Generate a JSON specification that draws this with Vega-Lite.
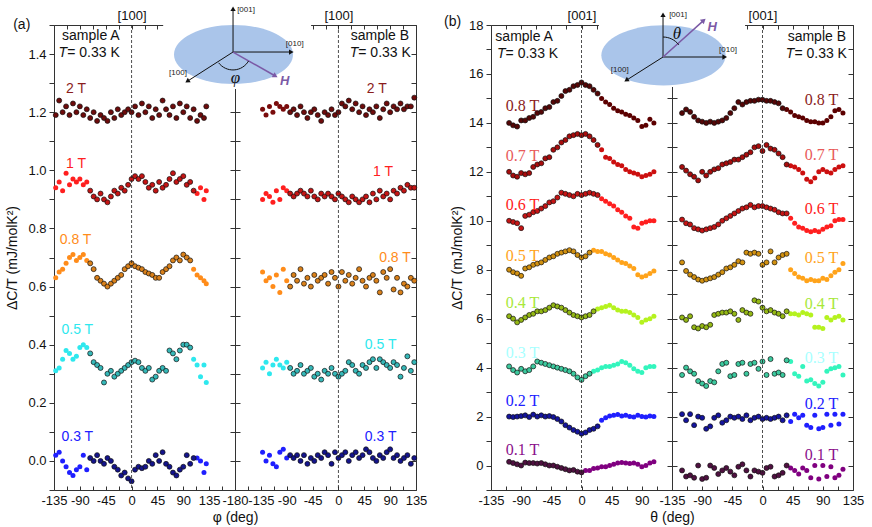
{
  "$schema": "https://vega.github.io/schema/vega-lite/v6.json",
  "config": {
    "font": "Liberation Sans",
    "view": {"stroke": "#333", "strokeWidth": 1},
    "axis": {"labelFontSize": 13, "labelColor": "#111", "tickColor": "#333", "titleFontSize": 14, "titleFontWeight": "normal", "titleColor": "#111", "grid": false, "domain": false, "labelFlush": false, "labelOverlap": false}
  },
  "datasets": {
    "aL": [
      {"s":"2","g":"o","x":-132,"y":1.19},{"s":"2","g":"o","x":-126,"y":1.24},{"s":"2","g":"o","x":-120,"y":1.20},{"s":"2","g":"o","x":-114,"y":1.22},{"s":"2","g":"o","x":-108,"y":1.19},{"s":"2","g":"o","x":-102,"y":1.23},{"s":"2","g":"o","x":-96,"y":1.20},{"s":"2","g":"o","x":-90,"y":1.22},{"s":"2","g":"o","x":-84,"y":1.19},{"s":"2","g":"o","x":-78,"y":1.21},{"s":"2","g":"o","x":-72,"y":1.18},{"s":"2","g":"o","x":-66,"y":1.20},{"s":"2","g":"o","x":-60,"y":1.17},{"s":"2","g":"o","x":-54,"y":1.19},{"s":"2","g":"o","x":-48,"y":1.18},{"s":"2","g":"o","x":-42,"y":1.17},{"s":"2","g":"o","x":-36,"y":1.20},{"s":"2","g":"o","x":-30,"y":1.18},{"s":"2","g":"o","x":-24,"y":1.21},{"s":"2","g":"o","x":-18,"y":1.19},{"s":"2","g":"o","x":-12,"y":1.20},{"s":"2","g":"o","x":-6,"y":1.21},{"s":"2","g":"o","x":0,"y":1.20},{"s":"2","g":"o","x":6,"y":1.22},{"s":"2","g":"o","x":12,"y":1.19},{"s":"2","g":"o","x":18,"y":1.23},{"s":"2","g":"o","x":24,"y":1.20},{"s":"2","g":"o","x":30,"y":1.22},{"s":"2","g":"o","x":36,"y":1.18},{"s":"2","g":"o","x":42,"y":1.21},{"s":"2","g":"o","x":48,"y":1.19},{"s":"2","g":"o","x":54,"y":1.24},{"s":"2","g":"o","x":60,"y":1.21},{"s":"2","g":"o","x":66,"y":1.19},{"s":"2","g":"o","x":72,"y":1.22},{"s":"2","g":"o","x":78,"y":1.18},{"s":"2","g":"o","x":84,"y":1.23},{"s":"2","g":"o","x":90,"y":1.20},{"s":"2","g":"o","x":96,"y":1.22},{"s":"2","g":"o","x":102,"y":1.18},{"s":"2","g":"o","x":108,"y":1.21},{"s":"2","g":"o","x":114,"y":1.17},{"s":"2","g":"o","x":120,"y":1.19},{"s":"2","g":"o","x":126,"y":1.18},{"s":"2","g":"o","x":130,"y":1.22},
      {"s":"1","g":"f","x":-132,"y":0.94},{"s":"1","g":"f","x":-126,"y":0.96},{"s":"1","g":"f","x":-120,"y":0.93},{"s":"1","g":"f","x":-114,"y":0.99},{"s":"1","g":"f","x":-108,"y":0.95},{"s":"1","g":"f","x":-102,"y":0.97},{"s":"1","g":"f","x":-96,"y":0.96},{"s":"1","g":"f","x":-90,"y":0.97},{"s":"1","g":"f","x":-84,"y":0.95},{"s":"1","g":"f","x":-78,"y":0.96},{"s":"1","g":"o","x":-72,"y":0.93},{"s":"1","g":"o","x":-66,"y":0.91},{"s":"1","g":"o","x":-60,"y":0.90},{"s":"1","g":"o","x":-54,"y":0.92},{"s":"1","g":"o","x":-48,"y":0.90},{"s":"1","g":"o","x":-42,"y":0.89},{"s":"1","g":"o","x":-36,"y":0.91},{"s":"1","g":"o","x":-30,"y":0.93},{"s":"1","g":"o","x":-24,"y":0.92},{"s":"1","g":"o","x":-18,"y":0.94},{"s":"1","g":"o","x":-12,"y":0.93},{"s":"1","g":"o","x":-6,"y":0.95},{"s":"1","g":"o","x":0,"y":0.97},{"s":"1","g":"o","x":6,"y":0.98},{"s":"1","g":"o","x":12,"y":0.97},{"s":"1","g":"o","x":18,"y":0.98},{"s":"1","g":"o","x":24,"y":0.96},{"s":"1","g":"o","x":30,"y":0.94},{"s":"1","g":"o","x":36,"y":0.95},{"s":"1","g":"o","x":42,"y":0.93},{"s":"1","g":"o","x":48,"y":0.96},{"s":"1","g":"o","x":54,"y":0.94},{"s":"1","g":"o","x":60,"y":0.95},{"s":"1","g":"o","x":66,"y":0.97},{"s":"1","g":"o","x":72,"y":0.99},{"s":"1","g":"o","x":78,"y":0.96},{"s":"1","g":"o","x":84,"y":0.97},{"s":"1","g":"o","x":90,"y":0.98},{"s":"1","g":"o","x":96,"y":0.95},{"s":"1","g":"o","x":102,"y":0.96},{"s":"1","g":"o","x":108,"y":0.93},{"s":"1","g":"f","x":114,"y":0.92},{"s":"1","g":"f","x":120,"y":0.94},{"s":"1","g":"f","x":126,"y":0.90},{"s":"1","g":"f","x":130,"y":0.93},
      {"s":"0.8","g":"f","x":-132,"y":0.63},{"s":"0.8","g":"f","x":-126,"y":0.65},{"s":"0.8","g":"f","x":-120,"y":0.66},{"s":"0.8","g":"f","x":-114,"y":0.68},{"s":"0.8","g":"f","x":-108,"y":0.70},{"s":"0.8","g":"f","x":-102,"y":0.71},{"s":"0.8","g":"f","x":-96,"y":0.69},{"s":"0.8","g":"f","x":-90,"y":0.70},{"s":"0.8","g":"f","x":-84,"y":0.71},{"s":"0.8","g":"f","x":-78,"y":0.69},{"s":"0.8","g":"o","x":-72,"y":0.68},{"s":"0.8","g":"o","x":-66,"y":0.66},{"s":"0.8","g":"o","x":-60,"y":0.63},{"s":"0.8","g":"o","x":-54,"y":0.62},{"s":"0.8","g":"o","x":-48,"y":0.61},{"s":"0.8","g":"o","x":-42,"y":0.60},{"s":"0.8","g":"o","x":-36,"y":0.61},{"s":"0.8","g":"o","x":-30,"y":0.62},{"s":"0.8","g":"o","x":-24,"y":0.63},{"s":"0.8","g":"o","x":-18,"y":0.64},{"s":"0.8","g":"o","x":-12,"y":0.66},{"s":"0.8","g":"o","x":-6,"y":0.67},{"s":"0.8","g":"o","x":0,"y":0.68},{"s":"0.8","g":"o","x":6,"y":0.67},{"s":"0.8","g":"o","x":12,"y":0.665},{"s":"0.8","g":"o","x":18,"y":0.66},{"s":"0.8","g":"o","x":24,"y":0.65},{"s":"0.8","g":"o","x":30,"y":0.645},{"s":"0.8","g":"o","x":36,"y":0.64},{"s":"0.8","g":"o","x":42,"y":0.63},{"s":"0.8","g":"o","x":48,"y":0.63},{"s":"0.8","g":"o","x":54,"y":0.65},{"s":"0.8","g":"o","x":60,"y":0.66},{"s":"0.8","g":"o","x":66,"y":0.67},{"s":"0.8","g":"o","x":72,"y":0.69},{"s":"0.8","g":"o","x":78,"y":0.70},{"s":"0.8","g":"o","x":84,"y":0.69},{"s":"0.8","g":"o","x":90,"y":0.71},{"s":"0.8","g":"o","x":96,"y":0.70},{"s":"0.8","g":"o","x":102,"y":0.69},{"s":"0.8","g":"f","x":108,"y":0.66},{"s":"0.8","g":"f","x":114,"y":0.64},{"s":"0.8","g":"f","x":120,"y":0.63},{"s":"0.8","g":"f","x":126,"y":0.62},{"s":"0.8","g":"f","x":130,"y":0.61},
      {"s":"0.5","g":"f","x":-132,"y":0.31},{"s":"0.5","g":"f","x":-126,"y":0.32},{"s":"0.5","g":"f","x":-120,"y":0.35},{"s":"0.5","g":"f","x":-114,"y":0.38},{"s":"0.5","g":"f","x":-108,"y":0.37},{"s":"0.5","g":"f","x":-102,"y":0.35},{"s":"0.5","g":"f","x":-96,"y":0.36},{"s":"0.5","g":"f","x":-90,"y":0.39},{"s":"0.5","g":"f","x":-84,"y":0.40},{"s":"0.5","g":"f","x":-78,"y":0.39},{"s":"0.5","g":"o","x":-72,"y":0.37},{"s":"0.5","g":"o","x":-66,"y":0.34},{"s":"0.5","g":"o","x":-60,"y":0.33},{"s":"0.5","g":"o","x":-54,"y":0.32},{"s":"0.5","g":"o","x":-48,"y":0.27},{"s":"0.5","g":"o","x":-42,"y":0.30},{"s":"0.5","g":"o","x":-36,"y":0.31},{"s":"0.5","g":"o","x":-30,"y":0.29},{"s":"0.5","g":"o","x":-24,"y":0.30},{"s":"0.5","g":"o","x":-18,"y":0.31},{"s":"0.5","g":"o","x":-12,"y":0.32},{"s":"0.5","g":"o","x":-6,"y":0.33},{"s":"0.5","g":"o","x":0,"y":0.34},{"s":"0.5","g":"o","x":6,"y":0.345},{"s":"0.5","g":"o","x":12,"y":0.34},{"s":"0.5","g":"o","x":18,"y":0.32},{"s":"0.5","g":"o","x":24,"y":0.31},{"s":"0.5","g":"o","x":30,"y":0.32},{"s":"0.5","g":"o","x":36,"y":0.28},{"s":"0.5","g":"o","x":42,"y":0.29},{"s":"0.5","g":"o","x":48,"y":0.31},{"s":"0.5","g":"o","x":54,"y":0.32},{"s":"0.5","g":"o","x":60,"y":0.31},{"s":"0.5","g":"o","x":66,"y":0.38},{"s":"0.5","g":"o","x":72,"y":0.37},{"s":"0.5","g":"o","x":78,"y":0.35},{"s":"0.5","g":"o","x":84,"y":0.38},{"s":"0.5","g":"o","x":90,"y":0.40},{"s":"0.5","g":"o","x":96,"y":0.40},{"s":"0.5","g":"o","x":102,"y":0.39},{"s":"0.5","g":"f","x":108,"y":0.35},{"s":"0.5","g":"f","x":114,"y":0.33},{"s":"0.5","g":"f","x":120,"y":0.29},{"s":"0.5","g":"f","x":126,"y":0.33},{"s":"0.5","g":"f","x":130,"y":0.27},
      {"s":"0.3","g":"f","x":-132,"y":0.02},{"s":"0.3","g":"f","x":-126,"y":0.03},{"s":"0.3","g":"f","x":-120,"y":0.00},{"s":"0.3","g":"f","x":-114,"y":-0.02},{"s":"0.3","g":"f","x":-108,"y":-0.04},{"s":"0.3","g":"f","x":-102,"y":-0.05},{"s":"0.3","g":"f","x":-96,"y":-0.03},{"s":"0.3","g":"f","x":-90,"y":-0.02},{"s":"0.3","g":"f","x":-84,"y":0.02},{"s":"0.3","g":"f","x":-78,"y":-0.03},{"s":"0.3","g":"o","x":-72,"y":0.01},{"s":"0.3","g":"o","x":-66,"y":0.00},{"s":"0.3","g":"o","x":-60,"y":0.02},{"s":"0.3","g":"o","x":-54,"y":0.00},{"s":"0.3","g":"o","x":-48,"y":-0.01},{"s":"0.3","g":"o","x":-42,"y":0.01},{"s":"0.3","g":"o","x":-36,"y":0.00},{"s":"0.3","g":"o","x":-30,"y":-0.02},{"s":"0.3","g":"o","x":-24,"y":-0.03},{"s":"0.3","g":"o","x":-18,"y":-0.05},{"s":"0.3","g":"o","x":-12,"y":-0.04},{"s":"0.3","g":"o","x":-6,"y":-0.06},{"s":"0.3","g":"o","x":0,"y":-0.07},{"s":"0.3","g":"o","x":6,"y":-0.03},{"s":"0.3","g":"o","x":12,"y":-0.02},{"s":"0.3","g":"o","x":18,"y":-0.025},{"s":"0.3","g":"o","x":24,"y":-0.02},{"s":"0.3","g":"o","x":30,"y":0.00},{"s":"0.3","g":"o","x":36,"y":-0.01},{"s":"0.3","g":"o","x":42,"y":0.02},{"s":"0.3","g":"o","x":48,"y":0.00},{"s":"0.3","g":"o","x":54,"y":0.03},{"s":"0.3","g":"o","x":60,"y":-0.01},{"s":"0.3","g":"o","x":66,"y":-0.02},{"s":"0.3","g":"o","x":72,"y":-0.04},{"s":"0.3","g":"o","x":78,"y":-0.05},{"s":"0.3","g":"o","x":84,"y":-0.03},{"s":"0.3","g":"o","x":90,"y":-0.02},{"s":"0.3","g":"o","x":96,"y":0.02},{"s":"0.3","g":"o","x":102,"y":-0.01},{"s":"0.3","g":"o","x":108,"y":0.01},{"s":"0.3","g":"f","x":114,"y":0.01},{"s":"0.3","g":"f","x":120,"y":0.00},{"s":"0.3","g":"f","x":126,"y":-0.04},{"s":"0.3","g":"f","x":130,"y":-0.01}
    ],
    "aR": [
      {"s":"2","g":"f","x":-132,"y":1.21},{"s":"2","g":"f","x":-126,"y":1.19},{"s":"2","g":"f","x":-120,"y":1.22},{"s":"2","g":"f","x":-114,"y":1.20},{"s":"2","g":"f","x":-108,"y":1.23},{"s":"2","g":"f","x":-102,"y":1.22},{"s":"2","g":"f","x":-96,"y":1.21},{"s":"2","g":"f","x":-90,"y":1.22},{"s":"2","g":"o","x":-84,"y":1.20},{"s":"2","g":"o","x":-78,"y":1.21},{"s":"2","g":"o","x":-72,"y":1.19},{"s":"2","g":"o","x":-66,"y":1.22},{"s":"2","g":"o","x":-60,"y":1.20},{"s":"2","g":"o","x":-54,"y":1.18},{"s":"2","g":"o","x":-48,"y":1.20},{"s":"2","g":"o","x":-42,"y":1.21},{"s":"2","g":"o","x":-36,"y":1.19},{"s":"2","g":"o","x":-30,"y":1.17},{"s":"2","g":"o","x":-24,"y":1.20},{"s":"2","g":"o","x":-18,"y":1.19},{"s":"2","g":"o","x":-12,"y":1.21},{"s":"2","g":"o","x":-6,"y":1.19},{"s":"2","g":"o","x":0,"y":1.20},{"s":"2","g":"o","x":6,"y":1.23},{"s":"2","g":"o","x":12,"y":1.22},{"s":"2","g":"o","x":18,"y":1.24},{"s":"2","g":"o","x":24,"y":1.21},{"s":"2","g":"o","x":30,"y":1.23},{"s":"2","g":"o","x":36,"y":1.20},{"s":"2","g":"o","x":42,"y":1.22},{"s":"2","g":"o","x":48,"y":1.19},{"s":"2","g":"o","x":54,"y":1.21},{"s":"2","g":"o","x":60,"y":1.20},{"s":"2","g":"o","x":66,"y":1.22},{"s":"2","g":"o","x":72,"y":1.18},{"s":"2","g":"o","x":78,"y":1.21},{"s":"2","g":"o","x":84,"y":1.23},{"s":"2","g":"o","x":90,"y":1.20},{"s":"2","g":"o","x":96,"y":1.22},{"s":"2","g":"o","x":102,"y":1.21},{"s":"2","g":"o","x":108,"y":1.23},{"s":"2","g":"o","x":114,"y":1.21},{"s":"2","g":"o","x":120,"y":1.22},{"s":"2","g":"o","x":126,"y":1.22},{"s":"2","g":"o","x":132,"y":1.25},
      {"s":"1","g":"f","x":-132,"y":0.90},{"s":"1","g":"f","x":-126,"y":0.92},{"s":"1","g":"f","x":-120,"y":0.91},{"s":"1","g":"f","x":-114,"y":0.89},{"s":"1","g":"f","x":-108,"y":0.93},{"s":"1","g":"f","x":-102,"y":0.90},{"s":"1","g":"f","x":-96,"y":0.94},{"s":"1","g":"f","x":-90,"y":0.93},{"s":"1","g":"o","x":-84,"y":0.92},{"s":"1","g":"o","x":-78,"y":0.91},{"s":"1","g":"o","x":-72,"y":0.92},{"s":"1","g":"o","x":-66,"y":0.93},{"s":"1","g":"o","x":-60,"y":0.92},{"s":"1","g":"o","x":-54,"y":0.91},{"s":"1","g":"o","x":-48,"y":0.93},{"s":"1","g":"o","x":-42,"y":0.91},{"s":"1","g":"o","x":-36,"y":0.90},{"s":"1","g":"o","x":-30,"y":0.92},{"s":"1","g":"o","x":-24,"y":0.91},{"s":"1","g":"o","x":-18,"y":0.92},{"s":"1","g":"o","x":-12,"y":0.91},{"s":"1","g":"o","x":-6,"y":0.90},{"s":"1","g":"o","x":0,"y":0.92},{"s":"1","g":"o","x":6,"y":0.91},{"s":"1","g":"o","x":12,"y":0.90},{"s":"1","g":"o","x":18,"y":0.89},{"s":"1","g":"o","x":24,"y":0.91},{"s":"1","g":"o","x":30,"y":0.90},{"s":"1","g":"o","x":36,"y":0.89},{"s":"1","g":"o","x":42,"y":0.90},{"s":"1","g":"o","x":48,"y":0.91},{"s":"1","g":"o","x":54,"y":0.89},{"s":"1","g":"o","x":60,"y":0.92},{"s":"1","g":"o","x":66,"y":0.90},{"s":"1","g":"o","x":72,"y":0.93},{"s":"1","g":"o","x":78,"y":0.91},{"s":"1","g":"o","x":84,"y":0.92},{"s":"1","g":"o","x":90,"y":0.90},{"s":"1","g":"o","x":96,"y":0.93},{"s":"1","g":"o","x":102,"y":0.92},{"s":"1","g":"o","x":108,"y":0.94},{"s":"1","g":"o","x":114,"y":0.93},{"s":"1","g":"o","x":120,"y":0.95},{"s":"1","g":"o","x":126,"y":0.94},{"s":"1","g":"o","x":132,"y":0.94},
      {"s":"0.8","g":"f","x":-132,"y":0.65},{"s":"0.8","g":"f","x":-126,"y":0.62},{"s":"0.8","g":"f","x":-120,"y":0.63},{"s":"0.8","g":"f","x":-114,"y":0.60},{"s":"0.8","g":"f","x":-108,"y":0.64},{"s":"0.8","g":"f","x":-102,"y":0.58},{"s":"0.8","g":"f","x":-96,"y":0.66},{"s":"0.8","g":"f","x":-90,"y":0.62},{"s":"0.8","g":"o","x":-84,"y":0.60},{"s":"0.8","g":"o","x":-78,"y":0.64},{"s":"0.8","g":"o","x":-72,"y":0.62},{"s":"0.8","g":"o","x":-66,"y":0.66},{"s":"0.8","g":"o","x":-60,"y":0.61},{"s":"0.8","g":"o","x":-54,"y":0.63},{"s":"0.8","g":"o","x":-48,"y":0.60},{"s":"0.8","g":"o","x":-42,"y":0.64},{"s":"0.8","g":"o","x":-36,"y":0.62},{"s":"0.8","g":"o","x":-30,"y":0.63},{"s":"0.8","g":"o","x":-24,"y":0.64},{"s":"0.8","g":"o","x":-18,"y":0.61},{"s":"0.8","g":"o","x":-12,"y":0.65},{"s":"0.8","g":"o","x":-6,"y":0.63},{"s":"0.8","g":"o","x":0,"y":0.60},{"s":"0.8","g":"o","x":6,"y":0.65},{"s":"0.8","g":"o","x":12,"y":0.62},{"s":"0.8","g":"o","x":18,"y":0.64},{"s":"0.8","g":"o","x":24,"y":0.61},{"s":"0.8","g":"o","x":30,"y":0.63},{"s":"0.8","g":"o","x":36,"y":0.66},{"s":"0.8","g":"o","x":42,"y":0.62},{"s":"0.8","g":"o","x":48,"y":0.60},{"s":"0.8","g":"o","x":54,"y":0.63},{"s":"0.8","g":"o","x":60,"y":0.64},{"s":"0.8","g":"o","x":66,"y":0.62},{"s":"0.8","g":"o","x":72,"y":0.58},{"s":"0.8","g":"o","x":78,"y":0.65},{"s":"0.8","g":"o","x":84,"y":0.63},{"s":"0.8","g":"o","x":90,"y":0.66},{"s":"0.8","g":"o","x":96,"y":0.59},{"s":"0.8","g":"o","x":102,"y":0.63},{"s":"0.8","g":"o","x":108,"y":0.58},{"s":"0.8","g":"o","x":114,"y":0.61},{"s":"0.8","g":"o","x":120,"y":0.60},{"s":"0.8","g":"o","x":126,"y":0.63},{"s":"0.8","g":"o","x":132,"y":0.62},
      {"s":"0.5","g":"f","x":-132,"y":0.32},{"s":"0.5","g":"f","x":-126,"y":0.34},{"s":"0.5","g":"f","x":-120,"y":0.30},{"s":"0.5","g":"f","x":-114,"y":0.33},{"s":"0.5","g":"f","x":-108,"y":0.35},{"s":"0.5","g":"f","x":-102,"y":0.33},{"s":"0.5","g":"f","x":-96,"y":0.32},{"s":"0.5","g":"f","x":-90,"y":0.34},{"s":"0.5","g":"o","x":-84,"y":0.32},{"s":"0.5","g":"o","x":-78,"y":0.30},{"s":"0.5","g":"o","x":-72,"y":0.31},{"s":"0.5","g":"o","x":-66,"y":0.33},{"s":"0.5","g":"o","x":-60,"y":0.30},{"s":"0.5","g":"o","x":-54,"y":0.31},{"s":"0.5","g":"o","x":-48,"y":0.32},{"s":"0.5","g":"o","x":-42,"y":0.29},{"s":"0.5","g":"o","x":-36,"y":0.30},{"s":"0.5","g":"o","x":-30,"y":0.28},{"s":"0.5","g":"o","x":-24,"y":0.31},{"s":"0.5","g":"o","x":-18,"y":0.30},{"s":"0.5","g":"o","x":-12,"y":0.32},{"s":"0.5","g":"o","x":-6,"y":0.30},{"s":"0.5","g":"o","x":0,"y":0.29},{"s":"0.5","g":"o","x":6,"y":0.30},{"s":"0.5","g":"o","x":12,"y":0.31},{"s":"0.5","g":"o","x":18,"y":0.34},{"s":"0.5","g":"o","x":24,"y":0.33},{"s":"0.5","g":"o","x":30,"y":0.31},{"s":"0.5","g":"o","x":36,"y":0.30},{"s":"0.5","g":"o","x":42,"y":0.33},{"s":"0.5","g":"o","x":48,"y":0.32},{"s":"0.5","g":"o","x":54,"y":0.34},{"s":"0.5","g":"o","x":60,"y":0.35},{"s":"0.5","g":"o","x":66,"y":0.32},{"s":"0.5","g":"o","x":72,"y":0.35},{"s":"0.5","g":"o","x":78,"y":0.34},{"s":"0.5","g":"o","x":84,"y":0.33},{"s":"0.5","g":"o","x":90,"y":0.32},{"s":"0.5","g":"o","x":96,"y":0.34},{"s":"0.5","g":"o","x":102,"y":0.33},{"s":"0.5","g":"o","x":108,"y":0.29},{"s":"0.5","g":"o","x":114,"y":0.32},{"s":"0.5","g":"o","x":120,"y":0.36},{"s":"0.5","g":"o","x":126,"y":0.31},{"s":"0.5","g":"o","x":132,"y":0.34},
      {"s":"0.3","g":"f","x":-132,"y":0.03},{"s":"0.3","g":"f","x":-126,"y":0.00},{"s":"0.3","g":"f","x":-120,"y":0.02},{"s":"0.3","g":"f","x":-114,"y":-0.01},{"s":"0.3","g":"f","x":-108,"y":-0.02},{"s":"0.3","g":"f","x":-102,"y":0.03},{"s":"0.3","g":"f","x":-96,"y":0.04},{"s":"0.3","g":"f","x":-90,"y":0.01},{"s":"0.3","g":"o","x":-84,"y":0.02},{"s":"0.3","g":"o","x":-78,"y":0.01},{"s":"0.3","g":"o","x":-72,"y":0.02},{"s":"0.3","g":"o","x":-66,"y":0.00},{"s":"0.3","g":"o","x":-60,"y":0.02},{"s":"0.3","g":"o","x":-54,"y":-0.01},{"s":"0.3","g":"o","x":-48,"y":0.01},{"s":"0.3","g":"o","x":-42,"y":0.00},{"s":"0.3","g":"o","x":-36,"y":0.02},{"s":"0.3","g":"o","x":-30,"y":0.01},{"s":"0.3","g":"o","x":-24,"y":0.03},{"s":"0.3","g":"o","x":-18,"y":0.02},{"s":"0.3","g":"o","x":-12,"y":-0.01},{"s":"0.3","g":"o","x":-6,"y":0.03},{"s":"0.3","g":"o","x":0,"y":0.01},{"s":"0.3","g":"o","x":6,"y":0.02},{"s":"0.3","g":"o","x":12,"y":0.03},{"s":"0.3","g":"o","x":18,"y":0.00},{"s":"0.3","g":"o","x":24,"y":0.02},{"s":"0.3","g":"o","x":30,"y":0.03},{"s":"0.3","g":"o","x":36,"y":0.01},{"s":"0.3","g":"o","x":42,"y":0.02},{"s":"0.3","g":"o","x":48,"y":0.04},{"s":"0.3","g":"o","x":54,"y":0.03},{"s":"0.3","g":"o","x":60,"y":0.01},{"s":"0.3","g":"o","x":66,"y":0.00},{"s":"0.3","g":"o","x":72,"y":0.02},{"s":"0.3","g":"o","x":78,"y":0.01},{"s":"0.3","g":"o","x":84,"y":0.03},{"s":"0.3","g":"o","x":90,"y":0.04},{"s":"0.3","g":"o","x":96,"y":0.01},{"s":"0.3","g":"o","x":102,"y":0.02},{"s":"0.3","g":"o","x":108,"y":0.00},{"s":"0.3","g":"o","x":114,"y":0.01},{"s":"0.3","g":"o","x":120,"y":0.02},{"s":"0.3","g":"o","x":126,"y":-0.01},{"s":"0.3","g":"o","x":132,"y":0.01}
    ],
    "bL": [
      {"s":"0.8","g":"o","x":-108,"y":14.0},{"s":"0.8","g":"o","x":-102,"y":13.9},{"s":"0.8","g":"o","x":-96,"y":13.85},{"s":"0.8","g":"o","x":-90,"y":14.1},{"s":"0.8","g":"o","x":-84,"y":14.1},{"s":"0.8","g":"o","x":-78,"y":14.2},{"s":"0.8","g":"o","x":-72,"y":14.25},{"s":"0.8","g":"o","x":-66,"y":14.4},{"s":"0.8","g":"o","x":-60,"y":14.45},{"s":"0.8","g":"o","x":-54,"y":14.6},{"s":"0.8","g":"o","x":-48,"y":14.65},{"s":"0.8","g":"o","x":-42,"y":14.85},{"s":"0.8","g":"o","x":-36,"y":14.9},{"s":"0.8","g":"o","x":-30,"y":15.1},{"s":"0.8","g":"o","x":-24,"y":15.3},{"s":"0.8","g":"o","x":-18,"y":15.35},{"s":"0.8","g":"o","x":-12,"y":15.5},{"s":"0.8","g":"o","x":-6,"y":15.55},{"s":"0.8","g":"o","x":0,"y":15.65},{"s":"0.8","g":"o","x":6,"y":15.55},{"s":"0.8","g":"o","x":12,"y":15.5},{"s":"0.8","g":"o","x":18,"y":15.35},{"s":"0.8","g":"o","x":24,"y":15.2},{"s":"0.8","g":"f","x":30,"y":15.0},{"s":"0.8","g":"f","x":36,"y":14.85},{"s":"0.8","g":"f","x":42,"y":14.75},{"s":"0.8","g":"f","x":48,"y":14.6},{"s":"0.8","g":"f","x":54,"y":14.5},{"s":"0.8","g":"f","x":60,"y":14.45},{"s":"0.8","g":"f","x":66,"y":14.35},{"s":"0.8","g":"f","x":72,"y":14.3},{"s":"0.8","g":"f","x":78,"y":14.2},{"s":"0.8","g":"f","x":84,"y":14.1},{"s":"0.8","g":"f","x":90,"y":13.85},{"s":"0.8","g":"f","x":96,"y":13.9},{"s":"0.8","g":"f","x":102,"y":14.15},{"s":"0.8","g":"f","x":108,"y":14.0},
      {"s":"0.7","g":"o","x":-108,"y":12.0},{"s":"0.7","g":"o","x":-102,"y":11.85},{"s":"0.7","g":"o","x":-96,"y":11.8},{"s":"0.7","g":"o","x":-90,"y":11.95},{"s":"0.7","g":"o","x":-84,"y":11.9},{"s":"0.7","g":"o","x":-78,"y":11.95},{"s":"0.7","g":"o","x":-72,"y":12.2},{"s":"0.7","g":"o","x":-66,"y":12.3},{"s":"0.7","g":"o","x":-60,"y":12.35},{"s":"0.7","g":"o","x":-54,"y":12.55},{"s":"0.7","g":"o","x":-48,"y":12.6},{"s":"0.7","g":"o","x":-42,"y":12.9},{"s":"0.7","g":"o","x":-36,"y":13.0},{"s":"0.7","g":"o","x":-30,"y":13.2},{"s":"0.7","g":"o","x":-24,"y":13.3},{"s":"0.7","g":"o","x":-18,"y":13.45},{"s":"0.7","g":"o","x":-12,"y":13.5},{"s":"0.7","g":"o","x":-6,"y":13.55},{"s":"0.7","g":"o","x":0,"y":13.5},{"s":"0.7","g":"o","x":6,"y":13.55},{"s":"0.7","g":"o","x":12,"y":13.45},{"s":"0.7","g":"o","x":18,"y":13.3},{"s":"0.7","g":"o","x":24,"y":13.1},{"s":"0.7","g":"f","x":30,"y":12.9},{"s":"0.7","g":"f","x":36,"y":12.6},{"s":"0.7","g":"f","x":42,"y":12.55},{"s":"0.7","g":"f","x":48,"y":12.4},{"s":"0.7","g":"f","x":54,"y":12.3},{"s":"0.7","g":"f","x":60,"y":12.25},{"s":"0.7","g":"f","x":66,"y":12.1},{"s":"0.7","g":"f","x":72,"y":12.0},{"s":"0.7","g":"f","x":78,"y":11.95},{"s":"0.7","g":"f","x":84,"y":11.9},{"s":"0.7","g":"f","x":90,"y":11.8},{"s":"0.7","g":"f","x":96,"y":11.85},{"s":"0.7","g":"f","x":102,"y":11.9},{"s":"0.7","g":"f","x":108,"y":12.0},
      {"s":"0.6","g":"o","x":-108,"y":10.0},{"s":"0.6","g":"o","x":-102,"y":9.95},{"s":"0.6","g":"o","x":-96,"y":9.9},{"s":"0.6","g":"o","x":-90,"y":9.7},{"s":"0.6","g":"o","x":-84,"y":10.2},{"s":"0.6","g":"o","x":-78,"y":10.25},{"s":"0.6","g":"o","x":-72,"y":10.35},{"s":"0.6","g":"o","x":-66,"y":10.4},{"s":"0.6","g":"o","x":-60,"y":10.5},{"s":"0.6","g":"o","x":-54,"y":10.6},{"s":"0.6","g":"o","x":-48,"y":10.75},{"s":"0.6","g":"o","x":-42,"y":10.8},{"s":"0.6","g":"o","x":-36,"y":10.95},{"s":"0.6","g":"o","x":-30,"y":11.15},{"s":"0.6","g":"o","x":-24,"y":11.1},{"s":"0.6","g":"o","x":-18,"y":11.05},{"s":"0.6","g":"o","x":-12,"y":11.0},{"s":"0.6","g":"o","x":-6,"y":11.1},{"s":"0.6","g":"o","x":0,"y":11.05},{"s":"0.6","g":"o","x":6,"y":11.1},{"s":"0.6","g":"o","x":12,"y":11.15},{"s":"0.6","g":"o","x":18,"y":11.1},{"s":"0.6","g":"o","x":24,"y":11.05},{"s":"0.6","g":"f","x":30,"y":10.9},{"s":"0.6","g":"f","x":36,"y":10.8},{"s":"0.6","g":"f","x":42,"y":10.7},{"s":"0.6","g":"f","x":48,"y":10.6},{"s":"0.6","g":"f","x":54,"y":10.45},{"s":"0.6","g":"f","x":60,"y":10.35},{"s":"0.6","g":"f","x":66,"y":10.2},{"s":"0.6","g":"f","x":72,"y":10.1},{"s":"0.6","g":"f","x":78,"y":9.75},{"s":"0.6","g":"f","x":84,"y":9.7},{"s":"0.6","g":"f","x":90,"y":9.9},{"s":"0.6","g":"f","x":96,"y":9.95},{"s":"0.6","g":"f","x":102,"y":10.0},{"s":"0.6","g":"f","x":108,"y":10.0},
      {"s":"0.5","g":"o","x":-108,"y":8.0},{"s":"0.5","g":"o","x":-102,"y":7.9},{"s":"0.5","g":"o","x":-96,"y":7.85},{"s":"0.5","g":"o","x":-90,"y":7.75},{"s":"0.5","g":"o","x":-84,"y":8.05},{"s":"0.5","g":"o","x":-78,"y":8.1},{"s":"0.5","g":"o","x":-72,"y":8.2},{"s":"0.5","g":"o","x":-66,"y":8.25},{"s":"0.5","g":"o","x":-60,"y":8.3},{"s":"0.5","g":"o","x":-54,"y":8.4},{"s":"0.5","g":"o","x":-48,"y":8.5},{"s":"0.5","g":"o","x":-42,"y":8.55},{"s":"0.5","g":"o","x":-36,"y":8.65},{"s":"0.5","g":"o","x":-30,"y":8.7},{"s":"0.5","g":"o","x":-24,"y":8.75},{"s":"0.5","g":"o","x":-18,"y":8.8},{"s":"0.5","g":"o","x":-12,"y":8.75},{"s":"0.5","g":"o","x":-6,"y":8.6},{"s":"0.5","g":"o","x":0,"y":8.5},{"s":"0.5","g":"o","x":6,"y":8.55},{"s":"0.5","g":"o","x":12,"y":8.7},{"s":"0.5","g":"f","x":18,"y":8.8},{"s":"0.5","g":"f","x":24,"y":8.75},{"s":"0.5","g":"f","x":30,"y":8.75},{"s":"0.5","g":"f","x":36,"y":8.65},{"s":"0.5","g":"f","x":42,"y":8.6},{"s":"0.5","g":"f","x":48,"y":8.5},{"s":"0.5","g":"f","x":54,"y":8.4},{"s":"0.5","g":"f","x":60,"y":8.3},{"s":"0.5","g":"f","x":66,"y":8.25},{"s":"0.5","g":"f","x":72,"y":8.15},{"s":"0.5","g":"f","x":78,"y":8.05},{"s":"0.5","g":"f","x":84,"y":7.8},{"s":"0.5","g":"f","x":90,"y":7.7},{"s":"0.5","g":"f","x":96,"y":7.75},{"s":"0.5","g":"f","x":102,"y":7.85},{"s":"0.5","g":"f","x":108,"y":7.95},
      {"s":"0.4","g":"o","x":-108,"y":6.1},{"s":"0.4","g":"o","x":-102,"y":6.0},{"s":"0.4","g":"o","x":-96,"y":5.85},{"s":"0.4","g":"o","x":-90,"y":5.95},{"s":"0.4","g":"o","x":-84,"y":6.05},{"s":"0.4","g":"o","x":-78,"y":6.15},{"s":"0.4","g":"o","x":-72,"y":6.2},{"s":"0.4","g":"o","x":-66,"y":6.3},{"s":"0.4","g":"o","x":-60,"y":6.3},{"s":"0.4","g":"o","x":-54,"y":6.35},{"s":"0.4","g":"o","x":-48,"y":6.45},{"s":"0.4","g":"o","x":-42,"y":6.55},{"s":"0.4","g":"o","x":-36,"y":6.5},{"s":"0.4","g":"o","x":-30,"y":6.45},{"s":"0.4","g":"o","x":-24,"y":6.35},{"s":"0.4","g":"o","x":-18,"y":6.25},{"s":"0.4","g":"o","x":-12,"y":6.15},{"s":"0.4","g":"o","x":-6,"y":6.1},{"s":"0.4","g":"o","x":0,"y":6.05},{"s":"0.4","g":"o","x":6,"y":6.1},{"s":"0.4","g":"o","x":12,"y":6.15},{"s":"0.4","g":"o","x":18,"y":6.3},{"s":"0.4","g":"f","x":24,"y":6.4},{"s":"0.4","g":"f","x":30,"y":6.45},{"s":"0.4","g":"f","x":36,"y":6.5},{"s":"0.4","g":"f","x":42,"y":6.55},{"s":"0.4","g":"f","x":48,"y":6.45},{"s":"0.4","g":"f","x":54,"y":6.35},{"s":"0.4","g":"f","x":60,"y":6.3},{"s":"0.4","g":"f","x":66,"y":6.3},{"s":"0.4","g":"f","x":72,"y":6.25},{"s":"0.4","g":"f","x":78,"y":6.15},{"s":"0.4","g":"f","x":84,"y":6.05},{"s":"0.4","g":"f","x":90,"y":5.85},{"s":"0.4","g":"f","x":96,"y":5.95},{"s":"0.4","g":"f","x":102,"y":6.0},{"s":"0.4","g":"f","x":108,"y":6.1},
      {"s":"0.3","g":"o","x":-108,"y":4.05},{"s":"0.3","g":"o","x":-102,"y":3.9},{"s":"0.3","g":"o","x":-96,"y":3.8},{"s":"0.3","g":"o","x":-90,"y":3.95},{"s":"0.3","g":"o","x":-84,"y":3.85},{"s":"0.3","g":"o","x":-78,"y":3.9},{"s":"0.3","g":"o","x":-72,"y":4.05},{"s":"0.3","g":"o","x":-66,"y":4.25},{"s":"0.3","g":"o","x":-60,"y":4.2},{"s":"0.3","g":"o","x":-54,"y":4.15},{"s":"0.3","g":"o","x":-48,"y":4.1},{"s":"0.3","g":"o","x":-42,"y":4.05},{"s":"0.3","g":"o","x":-36,"y":4.0},{"s":"0.3","g":"o","x":-30,"y":3.95},{"s":"0.3","g":"o","x":-24,"y":3.9},{"s":"0.3","g":"o","x":-18,"y":3.85},{"s":"0.3","g":"o","x":-12,"y":3.75},{"s":"0.3","g":"o","x":-6,"y":3.6},{"s":"0.3","g":"o","x":0,"y":3.5},{"s":"0.3","g":"o","x":6,"y":3.65},{"s":"0.3","g":"o","x":12,"y":3.75},{"s":"0.3","g":"f","x":18,"y":3.85},{"s":"0.3","g":"f","x":24,"y":3.9},{"s":"0.3","g":"f","x":30,"y":4.0},{"s":"0.3","g":"f","x":36,"y":4.05},{"s":"0.3","g":"f","x":42,"y":4.05},{"s":"0.3","g":"f","x":48,"y":4.1},{"s":"0.3","g":"f","x":54,"y":4.15},{"s":"0.3","g":"f","x":60,"y":4.25},{"s":"0.3","g":"f","x":66,"y":4.2},{"s":"0.3","g":"f","x":72,"y":4.1},{"s":"0.3","g":"f","x":78,"y":3.95},{"s":"0.3","g":"f","x":84,"y":3.85},{"s":"0.3","g":"f","x":90,"y":3.8},{"s":"0.3","g":"f","x":96,"y":4.0},{"s":"0.3","g":"f","x":102,"y":4.05},{"s":"0.3","g":"f","x":108,"y":4.05},
      {"s":"0.2","g":"o","x":-108,"y":2.0},{"s":"0.2","g":"o","x":-102,"y":1.98},{"s":"0.2","g":"o","x":-96,"y":2.0},{"s":"0.2","g":"o","x":-90,"y":2.02},{"s":"0.2","g":"o","x":-84,"y":2.05},{"s":"0.2","g":"o","x":-78,"y":1.98},{"s":"0.2","g":"o","x":-72,"y":2.08},{"s":"0.2","g":"o","x":-66,"y":2.0},{"s":"0.2","g":"o","x":-60,"y":2.05},{"s":"0.2","g":"o","x":-54,"y":2.0},{"s":"0.2","g":"o","x":-48,"y":2.02},{"s":"0.2","g":"o","x":-42,"y":1.98},{"s":"0.2","g":"o","x":-36,"y":1.9},{"s":"0.2","g":"o","x":-30,"y":1.8},{"s":"0.2","g":"o","x":-24,"y":1.65},{"s":"0.2","g":"o","x":-18,"y":1.55},{"s":"0.2","g":"o","x":-12,"y":1.45},{"s":"0.2","g":"o","x":-6,"y":1.38},{"s":"0.2","g":"o","x":0,"y":1.3},{"s":"0.2","g":"o","x":6,"y":1.35},{"s":"0.2","g":"o","x":12,"y":1.45},{"s":"0.2","g":"o","x":18,"y":1.5},{"s":"0.2","g":"o","x":24,"y":1.6},{"s":"0.2","g":"f","x":30,"y":1.85},{"s":"0.2","g":"f","x":36,"y":1.95},{"s":"0.2","g":"f","x":42,"y":2.02},{"s":"0.2","g":"f","x":48,"y":2.05},{"s":"0.2","g":"f","x":54,"y":2.08},{"s":"0.2","g":"f","x":60,"y":2.02},{"s":"0.2","g":"f","x":66,"y":2.05},{"s":"0.2","g":"f","x":72,"y":2.0},{"s":"0.2","g":"f","x":78,"y":1.98},{"s":"0.2","g":"f","x":84,"y":2.05},{"s":"0.2","g":"f","x":90,"y":2.0},{"s":"0.2","g":"f","x":96,"y":1.98},{"s":"0.2","g":"f","x":102,"y":2.02},{"s":"0.2","g":"f","x":108,"y":2.0},
      {"s":"0.1","g":"o","x":-108,"y":0.15},{"s":"0.1","g":"o","x":-102,"y":0.1},{"s":"0.1","g":"o","x":-96,"y":0.05},{"s":"0.1","g":"o","x":-90,"y":0.0},{"s":"0.1","g":"o","x":-84,"y":0.12},{"s":"0.1","g":"o","x":-78,"y":0.1},{"s":"0.1","g":"o","x":-72,"y":0.1},{"s":"0.1","g":"o","x":-66,"y":0.08},{"s":"0.1","g":"o","x":-60,"y":0.1},{"s":"0.1","g":"o","x":-54,"y":0.05},{"s":"0.1","g":"o","x":-48,"y":0.0},{"s":"0.1","g":"o","x":-42,"y":0.0},{"s":"0.1","g":"o","x":-36,"y":-0.05},{"s":"0.1","g":"o","x":-30,"y":-0.1},{"s":"0.1","g":"o","x":-24,"y":-0.15},{"s":"0.1","g":"o","x":-18,"y":-0.2},{"s":"0.1","g":"o","x":-12,"y":-0.18},{"s":"0.1","g":"o","x":-6,"y":-0.25},{"s":"0.1","g":"o","x":0,"y":-0.28},{"s":"0.1","g":"f","x":6,"y":-0.2},{"s":"0.1","g":"f","x":12,"y":-0.2},{"s":"0.1","g":"f","x":18,"y":-0.12},{"s":"0.1","g":"f","x":24,"y":-0.1},{"s":"0.1","g":"f","x":30,"y":-0.05},{"s":"0.1","g":"f","x":36,"y":-0.05},{"s":"0.1","g":"f","x":42,"y":0.0},{"s":"0.1","g":"f","x":48,"y":0.05},{"s":"0.1","g":"f","x":54,"y":0.1},{"s":"0.1","g":"f","x":60,"y":0.12},{"s":"0.1","g":"f","x":66,"y":0.1},{"s":"0.1","g":"f","x":72,"y":0.08},{"s":"0.1","g":"f","x":78,"y":0.1},{"s":"0.1","g":"f","x":84,"y":0.05},{"s":"0.1","g":"f","x":90,"y":-0.05},{"s":"0.1","g":"f","x":96,"y":0.0},{"s":"0.1","g":"f","x":102,"y":0.1},{"s":"0.1","g":"f","x":108,"y":0.15}
    ],
    "bR": [
      {"s":"0.8","g":"o","x":-120,"y":14.4},{"s":"0.8","g":"o","x":-114,"y":14.55},{"s":"0.8","g":"o","x":-108,"y":14.45},{"s":"0.8","g":"o","x":-102,"y":14.25},{"s":"0.8","g":"o","x":-96,"y":14.1},{"s":"0.8","g":"o","x":-90,"y":14.05},{"s":"0.8","g":"o","x":-84,"y":14.0},{"s":"0.8","g":"o","x":-78,"y":14.05},{"s":"0.8","g":"o","x":-72,"y":14.0},{"s":"0.8","g":"o","x":-66,"y":14.05},{"s":"0.8","g":"o","x":-60,"y":14.1},{"s":"0.8","g":"o","x":-54,"y":14.2},{"s":"0.8","g":"o","x":-48,"y":14.4},{"s":"0.8","g":"o","x":-42,"y":14.6},{"s":"0.8","g":"o","x":-36,"y":14.85},{"s":"0.8","g":"o","x":-30,"y":14.75},{"s":"0.8","g":"o","x":-24,"y":14.85},{"s":"0.8","g":"o","x":-18,"y":14.9},{"s":"0.8","g":"o","x":-12,"y":14.9},{"s":"0.8","g":"o","x":-6,"y":14.95},{"s":"0.8","g":"o","x":0,"y":14.95},{"s":"0.8","g":"o","x":6,"y":14.9},{"s":"0.8","g":"o","x":12,"y":14.9},{"s":"0.8","g":"o","x":18,"y":14.85},{"s":"0.8","g":"o","x":24,"y":14.8},{"s":"0.8","g":"o","x":30,"y":14.6},{"s":"0.8","g":"f","x":36,"y":14.55},{"s":"0.8","g":"f","x":42,"y":14.45},{"s":"0.8","g":"f","x":48,"y":14.3},{"s":"0.8","g":"f","x":54,"y":14.25},{"s":"0.8","g":"f","x":60,"y":14.2},{"s":"0.8","g":"f","x":66,"y":14.1},{"s":"0.8","g":"f","x":72,"y":14.05},{"s":"0.8","g":"f","x":78,"y":14.05},{"s":"0.8","g":"f","x":84,"y":14.0},{"s":"0.8","g":"f","x":90,"y":14.0},{"s":"0.8","g":"f","x":96,"y":14.1},{"s":"0.8","g":"f","x":102,"y":14.25},{"s":"0.8","g":"f","x":108,"y":14.5},{"s":"0.8","g":"f","x":114,"y":14.55},{"s":"0.8","g":"f","x":120,"y":14.4},
      {"s":"0.7","g":"o","x":-120,"y":12.2},{"s":"0.7","g":"o","x":-114,"y":12.05},{"s":"0.7","g":"o","x":-108,"y":11.9},{"s":"0.7","g":"o","x":-102,"y":11.8},{"s":"0.7","g":"o","x":-96,"y":11.65},{"s":"0.7","g":"o","x":-90,"y":12.0},{"s":"0.7","g":"o","x":-84,"y":11.85},{"s":"0.7","g":"o","x":-78,"y":12.0},{"s":"0.7","g":"o","x":-72,"y":12.1},{"s":"0.7","g":"o","x":-66,"y":12.15},{"s":"0.7","g":"o","x":-60,"y":12.3},{"s":"0.7","g":"o","x":-54,"y":12.35},{"s":"0.7","g":"o","x":-48,"y":12.4},{"s":"0.7","g":"o","x":-42,"y":12.5},{"s":"0.7","g":"o","x":-36,"y":12.5},{"s":"0.7","g":"o","x":-30,"y":12.6},{"s":"0.7","g":"o","x":-24,"y":12.7},{"s":"0.7","g":"o","x":-18,"y":12.8},{"s":"0.7","g":"o","x":-12,"y":13.0},{"s":"0.7","g":"o","x":-6,"y":13.05},{"s":"0.7","g":"o","x":0,"y":12.85},{"s":"0.7","g":"o","x":6,"y":13.1},{"s":"0.7","g":"o","x":12,"y":12.95},{"s":"0.7","g":"o","x":18,"y":12.9},{"s":"0.7","g":"o","x":24,"y":12.75},{"s":"0.7","g":"o","x":30,"y":12.6},{"s":"0.7","g":"o","x":36,"y":12.3},{"s":"0.7","g":"f","x":42,"y":12.25},{"s":"0.7","g":"f","x":48,"y":12.2},{"s":"0.7","g":"f","x":54,"y":12.1},{"s":"0.7","g":"f","x":60,"y":11.95},{"s":"0.7","g":"f","x":66,"y":11.7},{"s":"0.7","g":"f","x":72,"y":11.6},{"s":"0.7","g":"f","x":78,"y":11.75},{"s":"0.7","g":"f","x":84,"y":12.0},{"s":"0.7","g":"f","x":90,"y":12.1},{"s":"0.7","g":"f","x":96,"y":12.0},{"s":"0.7","g":"f","x":102,"y":11.95},{"s":"0.7","g":"f","x":108,"y":12.1},{"s":"0.7","g":"f","x":114,"y":12.2},{"s":"0.7","g":"f","x":120,"y":12.25},
      {"s":"0.6","g":"o","x":-120,"y":10.05},{"s":"0.6","g":"o","x":-114,"y":9.9},{"s":"0.6","g":"o","x":-108,"y":9.85},{"s":"0.6","g":"o","x":-102,"y":9.7},{"s":"0.6","g":"o","x":-96,"y":9.65},{"s":"0.6","g":"o","x":-90,"y":9.6},{"s":"0.6","g":"o","x":-84,"y":9.65},{"s":"0.6","g":"o","x":-78,"y":9.7},{"s":"0.6","g":"o","x":-72,"y":9.75},{"s":"0.6","g":"o","x":-66,"y":9.85},{"s":"0.6","g":"o","x":-60,"y":10.0},{"s":"0.6","g":"o","x":-54,"y":10.1},{"s":"0.6","g":"o","x":-48,"y":10.2},{"s":"0.6","g":"o","x":-42,"y":10.3},{"s":"0.6","g":"o","x":-36,"y":10.4},{"s":"0.6","g":"o","x":-30,"y":10.5},{"s":"0.6","g":"o","x":-24,"y":10.55},{"s":"0.6","g":"o","x":-18,"y":10.65},{"s":"0.6","g":"o","x":-12,"y":10.55},{"s":"0.6","g":"o","x":-6,"y":10.6},{"s":"0.6","g":"o","x":0,"y":10.6},{"s":"0.6","g":"o","x":6,"y":10.55},{"s":"0.6","g":"o","x":12,"y":10.5},{"s":"0.6","g":"o","x":18,"y":10.45},{"s":"0.6","g":"o","x":24,"y":10.35},{"s":"0.6","g":"o","x":30,"y":10.3},{"s":"0.6","g":"o","x":36,"y":10.3},{"s":"0.6","g":"f","x":42,"y":10.1},{"s":"0.6","g":"f","x":48,"y":9.9},{"s":"0.6","g":"f","x":54,"y":9.75},{"s":"0.6","g":"f","x":60,"y":9.7},{"s":"0.6","g":"f","x":66,"y":9.6},{"s":"0.6","g":"f","x":72,"y":9.55},{"s":"0.6","g":"f","x":78,"y":9.6},{"s":"0.6","g":"f","x":84,"y":9.55},{"s":"0.6","g":"f","x":90,"y":9.65},{"s":"0.6","g":"f","x":96,"y":9.75},{"s":"0.6","g":"f","x":102,"y":9.8},{"s":"0.6","g":"f","x":108,"y":10.0},{"s":"0.6","g":"f","x":114,"y":10.05},{"s":"0.6","g":"f","x":120,"y":10.05},
      {"s":"0.5","g":"o","x":-120,"y":8.3},{"s":"0.5","g":"o","x":-114,"y":7.95},{"s":"0.5","g":"o","x":-108,"y":7.8},{"s":"0.5","g":"o","x":-102,"y":7.7},{"s":"0.5","g":"o","x":-96,"y":7.6},{"s":"0.5","g":"o","x":-90,"y":7.55},{"s":"0.5","g":"o","x":-84,"y":7.6},{"s":"0.5","g":"o","x":-78,"y":7.65},{"s":"0.5","g":"o","x":-72,"y":7.7},{"s":"0.5","g":"o","x":-66,"y":7.8},{"s":"0.5","g":"o","x":-60,"y":7.9},{"s":"0.5","g":"o","x":-54,"y":8.05},{"s":"0.5","g":"o","x":-48,"y":8.1},{"s":"0.5","g":"o","x":-42,"y":8.2},{"s":"0.5","g":"o","x":-36,"y":8.35},{"s":"0.5","g":"o","x":-30,"y":8.3},{"s":"0.5","g":"o","x":-24,"y":8.7},{"s":"0.5","g":"o","x":-18,"y":8.65},{"s":"0.5","g":"o","x":-12,"y":8.7},{"s":"0.5","g":"o","x":-6,"y":8.65},{"s":"0.5","g":"o","x":0,"y":8.2},{"s":"0.5","g":"o","x":6,"y":8.3},{"s":"0.5","g":"o","x":12,"y":8.75},{"s":"0.5","g":"o","x":18,"y":8.3},{"s":"0.5","g":"o","x":24,"y":8.5},{"s":"0.5","g":"o","x":30,"y":8.6},{"s":"0.5","g":"o","x":36,"y":8.65},{"s":"0.5","g":"f","x":42,"y":8.0},{"s":"0.5","g":"f","x":48,"y":7.85},{"s":"0.5","g":"f","x":54,"y":7.7},{"s":"0.5","g":"f","x":60,"y":7.65},{"s":"0.5","g":"f","x":66,"y":7.55},{"s":"0.5","g":"f","x":72,"y":7.6},{"s":"0.5","g":"f","x":78,"y":7.55},{"s":"0.5","g":"f","x":84,"y":7.55},{"s":"0.5","g":"f","x":90,"y":7.65},{"s":"0.5","g":"f","x":96,"y":7.6},{"s":"0.5","g":"f","x":102,"y":7.75},{"s":"0.5","g":"f","x":108,"y":7.9},{"s":"0.5","g":"f","x":114,"y":8.0},{"s":"0.5","g":"f","x":120,"y":8.25},
      {"s":"0.4","g":"o","x":-120,"y":6.05},{"s":"0.4","g":"o","x":-114,"y":5.95},{"s":"0.4","g":"o","x":-108,"y":6.1},{"s":"0.4","g":"o","x":-102,"y":5.65},{"s":"0.4","g":"o","x":-96,"y":5.6},{"s":"0.4","g":"o","x":-90,"y":5.7},{"s":"0.4","g":"o","x":-84,"y":5.65},{"s":"0.4","g":"o","x":-78,"y":5.75},{"s":"0.4","g":"o","x":-72,"y":6.15},{"s":"0.4","g":"o","x":-66,"y":6.2},{"s":"0.4","g":"o","x":-60,"y":6.25},{"s":"0.4","g":"o","x":-54,"y":6.25},{"s":"0.4","g":"o","x":-48,"y":6.3},{"s":"0.4","g":"o","x":-42,"y":6.2},{"s":"0.4","g":"o","x":-36,"y":5.95},{"s":"0.4","g":"o","x":-30,"y":6.35},{"s":"0.4","g":"o","x":-24,"y":6.25},{"s":"0.4","g":"o","x":-18,"y":6.2},{"s":"0.4","g":"o","x":-12,"y":6.75},{"s":"0.4","g":"o","x":-6,"y":6.7},{"s":"0.4","g":"o","x":0,"y":6.45},{"s":"0.4","g":"o","x":6,"y":6.3},{"s":"0.4","g":"o","x":12,"y":6.35},{"s":"0.4","g":"o","x":18,"y":6.25},{"s":"0.4","g":"o","x":24,"y":6.2},{"s":"0.4","g":"o","x":30,"y":6.1},{"s":"0.4","g":"o","x":36,"y":6.3},{"s":"0.4","g":"f","x":42,"y":6.2},{"s":"0.4","g":"f","x":48,"y":6.2},{"s":"0.4","g":"f","x":54,"y":6.15},{"s":"0.4","g":"f","x":60,"y":6.25},{"s":"0.4","g":"f","x":66,"y":6.2},{"s":"0.4","g":"f","x":72,"y":6.15},{"s":"0.4","g":"f","x":78,"y":5.65},{"s":"0.4","g":"f","x":84,"y":5.65},{"s":"0.4","g":"f","x":90,"y":5.6},{"s":"0.4","g":"f","x":96,"y":6.05},{"s":"0.4","g":"f","x":102,"y":5.95},{"s":"0.4","g":"f","x":108,"y":6.05},{"s":"0.4","g":"f","x":114,"y":6.1},{"s":"0.4","g":"f","x":120,"y":5.95},
      {"s":"0.3","g":"o","x":-120,"y":3.7},{"s":"0.3","g":"o","x":-114,"y":4.0},{"s":"0.3","g":"o","x":-108,"y":3.85},{"s":"0.3","g":"o","x":-102,"y":3.75},{"s":"0.3","g":"o","x":-96,"y":3.45},{"s":"0.3","g":"o","x":-90,"y":3.35},{"s":"0.3","g":"o","x":-84,"y":3.25},{"s":"0.3","g":"o","x":-78,"y":3.45},{"s":"0.3","g":"o","x":-72,"y":3.4},{"s":"0.3","g":"o","x":-66,"y":3.85},{"s":"0.3","g":"o","x":-60,"y":4.15},{"s":"0.3","g":"o","x":-54,"y":4.2},{"s":"0.3","g":"o","x":-48,"y":3.65},{"s":"0.3","g":"o","x":-42,"y":3.7},{"s":"0.3","g":"o","x":-36,"y":4.15},{"s":"0.3","g":"o","x":-30,"y":4.2},{"s":"0.3","g":"o","x":-24,"y":3.75},{"s":"0.3","g":"o","x":-18,"y":4.15},{"s":"0.3","g":"o","x":-12,"y":4.2},{"s":"0.3","g":"o","x":-6,"y":3.95},{"s":"0.3","g":"o","x":0,"y":4.25},{"s":"0.3","g":"o","x":6,"y":3.7},{"s":"0.3","g":"o","x":12,"y":4.35},{"s":"0.3","g":"o","x":18,"y":3.75},{"s":"0.3","g":"o","x":24,"y":3.8},{"s":"0.3","g":"o","x":30,"y":3.7},{"s":"0.3","g":"o","x":36,"y":4.3},{"s":"0.3","g":"f","x":42,"y":4.25},{"s":"0.3","g":"f","x":48,"y":3.75},{"s":"0.3","g":"f","x":54,"y":3.65},{"s":"0.3","g":"f","x":60,"y":4.05},{"s":"0.3","g":"f","x":66,"y":3.45},{"s":"0.3","g":"f","x":72,"y":3.5},{"s":"0.3","g":"f","x":78,"y":3.35},{"s":"0.3","g":"f","x":84,"y":3.25},{"s":"0.3","g":"f","x":90,"y":3.4},{"s":"0.3","g":"f","x":96,"y":3.85},{"s":"0.3","g":"f","x":102,"y":3.95},{"s":"0.3","g":"f","x":108,"y":4.0},{"s":"0.3","g":"f","x":114,"y":4.05},{"s":"0.3","g":"f","x":120,"y":3.7},
      {"s":"0.2","g":"o","x":-120,"y":2.1},{"s":"0.2","g":"o","x":-114,"y":1.85},{"s":"0.2","g":"o","x":-108,"y":2.1},{"s":"0.2","g":"o","x":-102,"y":1.65},{"s":"0.2","g":"o","x":-96,"y":2.0},{"s":"0.2","g":"o","x":-90,"y":1.95},{"s":"0.2","g":"o","x":-84,"y":1.5},{"s":"0.2","g":"o","x":-78,"y":1.6},{"s":"0.2","g":"o","x":-72,"y":1.95},{"s":"0.2","g":"o","x":-66,"y":2.05},{"s":"0.2","g":"o","x":-60,"y":1.75},{"s":"0.2","g":"o","x":-54,"y":1.85},{"s":"0.2","g":"o","x":-48,"y":2.0},{"s":"0.2","g":"o","x":-42,"y":1.95},{"s":"0.2","g":"o","x":-36,"y":2.0},{"s":"0.2","g":"o","x":-30,"y":1.9},{"s":"0.2","g":"o","x":-24,"y":2.05},{"s":"0.2","g":"o","x":-18,"y":1.85},{"s":"0.2","g":"o","x":-12,"y":1.95},{"s":"0.2","g":"o","x":-6,"y":2.0},{"s":"0.2","g":"o","x":0,"y":1.9},{"s":"0.2","g":"o","x":6,"y":1.95},{"s":"0.2","g":"o","x":12,"y":1.9},{"s":"0.2","g":"o","x":18,"y":1.95},{"s":"0.2","g":"o","x":24,"y":2.0},{"s":"0.2","g":"o","x":30,"y":1.85},{"s":"0.2","g":"o","x":36,"y":2.05},{"s":"0.2","g":"f","x":42,"y":1.8},{"s":"0.2","g":"f","x":48,"y":2.1},{"s":"0.2","g":"f","x":54,"y":1.95},{"s":"0.2","g":"f","x":60,"y":2.05},{"s":"0.2","g":"f","x":66,"y":1.65},{"s":"0.2","g":"f","x":72,"y":1.55},{"s":"0.2","g":"f","x":78,"y":2.05},{"s":"0.2","g":"f","x":84,"y":1.5},{"s":"0.2","g":"f","x":90,"y":1.55},{"s":"0.2","g":"f","x":96,"y":2.1},{"s":"0.2","g":"f","x":102,"y":1.65},{"s":"0.2","g":"f","x":108,"y":2.1},{"s":"0.2","g":"f","x":114,"y":1.7},{"s":"0.2","g":"f","x":120,"y":2.1},
      {"s":"0.1","g":"o","x":-120,"y":-0.2},{"s":"0.1","g":"o","x":-114,"y":-0.45},{"s":"0.1","g":"o","x":-108,"y":-0.4},{"s":"0.1","g":"o","x":-102,"y":-0.5},{"s":"0.1","g":"o","x":-96,"y":0.0},{"s":"0.1","g":"o","x":-90,"y":-0.55},{"s":"0.1","g":"o","x":-84,"y":-0.5},{"s":"0.1","g":"o","x":-78,"y":0.0},{"s":"0.1","g":"o","x":-72,"y":-0.1},{"s":"0.1","g":"o","x":-66,"y":-0.35},{"s":"0.1","g":"o","x":-60,"y":-0.2},{"s":"0.1","g":"o","x":-54,"y":-0.1},{"s":"0.1","g":"o","x":-48,"y":-0.25},{"s":"0.1","g":"o","x":-42,"y":-0.4},{"s":"0.1","g":"o","x":-36,"y":-0.05},{"s":"0.1","g":"o","x":-30,"y":0.05},{"s":"0.1","g":"o","x":-24,"y":-0.2},{"s":"0.1","g":"o","x":-18,"y":-0.45},{"s":"0.1","g":"o","x":-12,"y":-0.2},{"s":"0.1","g":"o","x":-6,"y":-0.25},{"s":"0.1","g":"o","x":0,"y":-0.3},{"s":"0.1","g":"o","x":6,"y":-0.1},{"s":"0.1","g":"o","x":12,"y":-0.05},{"s":"0.1","g":"o","x":18,"y":-0.45},{"s":"0.1","g":"o","x":24,"y":-0.4},{"s":"0.1","g":"o","x":30,"y":-0.3},{"s":"0.1","g":"o","x":36,"y":0.0},{"s":"0.1","g":"f","x":42,"y":-0.1},{"s":"0.1","g":"f","x":48,"y":-0.2},{"s":"0.1","g":"f","x":54,"y":-0.35},{"s":"0.1","g":"f","x":60,"y":-0.1},{"s":"0.1","g":"f","x":66,"y":-0.2},{"s":"0.1","g":"f","x":72,"y":-0.5},{"s":"0.1","g":"f","x":78,"y":0.0},{"s":"0.1","g":"f","x":84,"y":-0.55},{"s":"0.1","g":"f","x":90,"y":0.0},{"s":"0.1","g":"f","x":96,"y":-0.45},{"s":"0.1","g":"f","x":102,"y":-0.05},{"s":"0.1","g":"f","x":108,"y":-0.5},{"s":"0.1","g":"f","x":114,"y":-0.4},{"s":"0.1","g":"f","x":120,"y":-0.15}
    ],
    "tAL": [{"s":"2","x":-114,"y":1.279,"t":"2 T"},{"s":"1","x":-114,"y":1.023,"t":"1 T"},{"s":"0.8","x":-125,"y":0.76,"t":"0.8 T"},{"s":"0.5","x":-122,"y":0.451,"t":"0.5 T"},{"s":"0.3","x":-122,"y":0.084,"t":"0.3 T"}],
    "tAR": [{"s":"2","x":84,"y":1.279,"t":"2 T"},{"s":"1","x":95,"y":0.995,"t":"1 T"},{"s":"0.8","x":126,"y":0.697,"t":"0.8 T"},{"s":"0.5","x":101,"y":0.399,"t":"0.5 T"},{"s":"0.3","x":101,"y":0.082,"t":"0.3 T"}],
    "tBL": [{"s":"0.8","x":-113,"y":14.67,"t":"0.8 T"},{"s":"0.7","x":-113,"y":12.63,"t":"0.7 T"},{"s":"0.6","x":-113,"y":10.65,"t":"0.6 T"},{"s":"0.5","x":-113,"y":8.57,"t":"0.5 T"},{"s":"0.4","x":-113,"y":6.64,"t":"0.4 T"},{"s":"0.3","x":-113,"y":4.6,"t":"0.3 T"},{"s":"0.2","x":-113,"y":2.64,"t":"0.2 T"},{"s":"0.1","x":-113,"y":0.65,"t":"0.1 T"}],
    "tBR": [{"s":"0.8","x":113,"y":14.94,"t":"0.8 T"},{"s":"0.7","x":113,"y":12.7,"t":"0.7 T"},{"s":"0.6","x":113,"y":10.5,"t":"0.6 T"},{"s":"0.5","x":113,"y":8.5,"t":"0.5 T"},{"s":"0.4","x":113,"y":6.58,"t":"0.4 T"},{"s":"0.3","x":113,"y":4.4,"t":"0.3 T"},{"s":"0.2","x":113,"y":2.53,"t":"0.2 T"},{"s":"0.1","x":113,"y":0.45,"t":"0.1 T"}]
  },
  "hconcat": [
    {
      "width": 181, "height": 465,
      "layer": [
        {"data": {"name": "aL"}, "transform": [{"filter": "datum.g=='f'"}],
         "mark": {"type": "circle", "size": 25, "opacity": 1},
         "encoding": {
           "x": {"field": "x", "type": "quantitative", "scale": {"domain": [-135, 180], "nice": false},
                 "axis": {"orient": "bottom", "values": [-135,-112.5,-90,-67.5,-45,-22.5,0,22.5,45,67.5,90,112.5,135,157.5], "labelExpr": "datum.value%45==0&&datum.value<=135?''+datum.value:''", "tickSize": -4, "labelPadding": 8, "title": "φ (deg)", "titleX": 181, "titleY": 20}},
           "y": {"field": "y", "type": "quantitative", "scale": {"domain": [-0.1, 1.5], "nice": false},
                 "axis": {"orient": "left", "values": [-0.1,0,0.1,0.2,0.3,0.4,0.5,0.6,0.7,0.8,0.9,1.0,1.1,1.2,1.3,1.4,1.5], "labelExpr": "round(datum.value*10)%2==0?format(datum.value,'.1f'):''", "tickSize": 5, "labelPadding": 3, "title": "ΔC/T (mJ/molK²)", "titlePadding": 8}},
           "fill": {"field": "s", "type": "nominal", "scale": {"domain": ["2","1","0.8","0.5","0.3"], "range": ["#7a0c0c","#ff1f1f","#ff8c1a","#2ee8ee","#1f1fff"]}, "legend": null}}},
        {"data": {"name": "aL"}, "transform": [{"filter": "datum.g=='o'"}],
         "mark": {"type": "circle", "size": 25, "opacity": 1, "stroke": "#111", "strokeWidth": 0.7},
         "encoding": {
           "x": {"field": "x", "type": "quantitative", "scale": {"domain": [-135, 180], "nice": false},
                 "axis": {"orient": "top", "values": [-135,-112.5,-90,-67.5,-45,-22.5,0,22.5,45,67.5,90,112.5,135,157.5], "labelExpr": "datum.value==0?'[100]':''", "tickSize": -4, "labelPadding": 7, "title": null}},
           "y": {"field": "y", "type": "quantitative", "scale": {"domain": [-0.1, 1.5], "nice": false},
                 "axis": {"orient": "right", "values": [-0.1,0,0.1,0.2,0.3,0.4,0.5,0.6,0.7,0.8,0.9,1.0,1.1,1.2,1.3,1.4,1.5], "labels": false, "tickSize": -5, "title": null}},
           "fill": {"field": "s", "type": "nominal", "scale": {"domain": ["2","1","0.8","0.5","0.3"], "range": ["#6e0b0b","#c41414","#d9801a","#35b8b8","#14148c"]}, "legend": null}}},
        {"data": {"values": [{}]}, "mark": {"type": "rule", "strokeDash": [3, 2], "color": "#222", "strokeWidth": 0.8},
         "encoding": {"x": {"datum": 0, "type": "quantitative", "axis": null}}},
        {"data": {"name": "tAL"}, "mark": {"type": "text", "align": "left", "baseline": "middle", "fontSize": 14},
         "encoding": {"x": {"field": "x", "type": "quantitative", "axis": null}, "y": {"field": "y", "type": "quantitative", "axis": null}, "text": {"field": "t"},
           "fill": {"field": "s", "type": "nominal", "scale": {"domain": ["2","1","0.8","0.5","0.3"], "range": ["#8b1c1c","#ff2020","#ff8c1a","#2ee8ee","#2020ff"]}, "legend": null}}},
        {"data": {"values": [{"x":-121,"y":1.461,"t":"sample A"},{"x":-112,"y":1.405,"t":"= 0.33 K"},{"x":-206,"y":1.499,"t":"(a)"}]},
         "mark": {"type": "text", "align": "left", "baseline": "middle", "fontSize": 14, "color": "#111"},
         "encoding": {"x": {"field": "x", "type": "quantitative", "axis": null}, "y": {"field": "y", "type": "quantitative", "axis": null}, "text": {"field": "t"}}},
        {"data": {"values": [{"x":-127,"y":1.405,"t":"T"}]},
         "mark": {"type": "text", "align": "left", "baseline": "middle", "fontSize": 14, "fontStyle": "italic", "color": "#111"},
         "encoding": {"x": {"field": "x", "type": "quantitative", "axis": null}, "y": {"field": "y", "type": "quantitative", "axis": null}, "text": {"field": "t"}}}
      ],
      "resolve": {"scale": {"fill": "independent"}, "axis": {"x": "independent", "y": "independent"}}
    },
    {
      "width": 181, "height": 465,
      "layer": [
        {"data": {"name": "aR"}, "transform": [{"filter": "datum.g=='f'"}],
         "mark": {"type": "circle", "size": 25, "opacity": 1},
         "encoding": {
           "x": {"field": "x", "type": "quantitative", "scale": {"domain": [-180, 135], "nice": false},
                 "axis": {"orient": "bottom", "values": [-180,-157.5,-135,-112.5,-90,-67.5,-45,-22.5,0,22.5,45,67.5,90,112.5,135], "labelExpr": "datum.value%45==0?''+datum.value:''", "tickSize": -4, "labelPadding": 8, "title": null}},
           "y": {"field": "y", "type": "quantitative", "scale": {"domain": [-0.1, 1.5], "nice": false},
                 "axis": {"orient": "left", "values": [-0.1,0,0.1,0.2,0.3,0.4,0.5,0.6,0.7,0.8,0.9,1.0,1.1,1.2,1.3,1.4,1.5], "labels": false, "tickSize": -5, "title": null}},
           "fill": {"field": "s", "type": "nominal", "scale": {"domain": ["2","1","0.8","0.5","0.3"], "range": ["#7a0c0c","#ff1f1f","#ff8c1a","#2ee8ee","#1f1fff"]}, "legend": null}}},
        {"data": {"name": "aR"}, "transform": [{"filter": "datum.g=='o'"}],
         "mark": {"type": "circle", "size": 25, "opacity": 1, "stroke": "#111", "strokeWidth": 0.7},
         "encoding": {
           "x": {"field": "x", "type": "quantitative", "scale": {"domain": [-180, 135], "nice": false},
                 "axis": {"orient": "top", "values": [-180,-157.5,-135,-112.5,-90,-67.5,-45,-22.5,0,22.5,45,67.5,90,112.5,135], "labelExpr": "datum.value==0?'[100]':''", "tickSize": -4, "labelPadding": 7, "title": null}},
           "y": {"field": "y", "type": "quantitative", "scale": {"domain": [-0.1, 1.5], "nice": false},
                 "axis": {"orient": "right", "values": [-0.1,0,0.1,0.2,0.3,0.4,0.5,0.6,0.7,0.8,0.9,1.0,1.1,1.2,1.3,1.4,1.5], "labels": false, "tickSize": -5, "title": null}},
           "fill": {"field": "s", "type": "nominal", "scale": {"domain": ["2","1","0.8","0.5","0.3"], "range": ["#6e0b0b","#c41414","#d9801a","#35b8b8","#14148c"]}, "legend": null}}},
        {"data": {"values": [{}]}, "mark": {"type": "rule", "strokeDash": [3, 2], "color": "#222", "strokeWidth": 0.8},
         "encoding": {"x": {"datum": 0, "type": "quantitative", "axis": null}}},
        {"data": {"name": "tAR"}, "mark": {"type": "text", "align": "right", "baseline": "middle", "fontSize": 14},
         "encoding": {"x": {"field": "x", "type": "quantitative", "axis": null}, "y": {"field": "y", "type": "quantitative", "axis": null}, "text": {"field": "t"},
           "fill": {"field": "s", "type": "nominal", "scale": {"domain": ["2","1","0.8","0.5","0.3"], "range": ["#8b1c1c","#ff2020","#ff8c1a","#2ee8ee","#2020ff"]}, "legend": null}}},
        {"data": {"values": [{"x":123,"y":1.461,"t":"sample B"},{"x":126,"y":1.405,"t":"= 0.33 K"}]},
         "mark": {"type": "text", "align": "right", "baseline": "middle", "fontSize": 14, "color": "#111"},
         "encoding": {"x": {"field": "x", "type": "quantitative", "axis": null}, "y": {"field": "y", "type": "quantitative", "axis": null}, "text": {"field": "t"}}},
        {"data": {"values": [{"x":34.4,"y":1.405,"t":"T"}]},
         "mark": {"type": "text", "align": "right", "baseline": "middle", "fontSize": 14, "fontStyle": "italic", "color": "#111"},
         "encoding": {"x": {"field": "x", "type": "quantitative", "axis": null}, "y": {"field": "y", "type": "quantitative", "axis": null}, "text": {"field": "t"}}},
        {"data": {"values": [{"x":-305,"x2":-47.6,"y":1.51,"y2":1.28}]}, "mark": {"type": "rect", "color": "white", "opacity": 1},
         "encoding": {"x": {"field": "x", "type": "quantitative", "axis": null}, "x2": {"field": "x2"}, "y": {"field": "y", "type": "quantitative", "axis": null}, "y2": {"field": "y2"}}},
        {"data": {"values": [{"x":-182.6,"y":1.3985}]},
         "mark": {"type": "point", "shape": "M-1,0C-1,-0.274 -0.552,-0.496 0,-0.496C0.552,-0.496 1,-0.274 1,0C1,0.274 0.552,0.496 0,0.496C-0.552,0.496 -1,0.274 -1,0Z", "size": 14161, "filled": true, "color": "#aac5ea", "opacity": 1, "strokeWidth": 0},
         "encoding": {"x": {"field": "x", "type": "quantitative", "axis": null}, "y": {"field": "y", "type": "quantitative", "axis": null}}},
        {"data": {"values": [{"x":-183.4,"y":1.407,"x2":-183.4,"y2":1.556},{"x":-183.4,"y":1.407,"x2":-82,"y2":1.407},{"x":-183.4,"y":1.407,"x2":-263,"y2":1.3063}]},
         "mark": {"type": "rule", "color": "#111", "strokeWidth": 1},
         "encoding": {"x": {"field": "x", "type": "quantitative", "axis": null}, "x2": {"field": "x2"}, "y": {"field": "y", "type": "quantitative", "axis": null}, "y2": {"field": "y2"}}},
        {"data": {"values": [{"x":-183.4,"y":1.407,"x2":-109.8,"y2":1.3245}]},
         "mark": {"type": "rule", "color": "#7b5aa6", "strokeWidth": 1.5},
         "encoding": {"x": {"field": "x", "type": "quantitative", "axis": null}, "x2": {"field": "x2"}, "y": {"field": "y", "type": "quantitative", "axis": null}, "y2": {"field": "y2"}}},
        {"data": {"values": [{"x":-183.4,"y":1.556}]}, "mark": {"type": "point", "shape": "triangle-up", "angle": 0, "size": 28, "filled": true, "color": "#111", "opacity": 1},
         "encoding": {"x": {"field": "x", "type": "quantitative", "axis": null}, "y": {"field": "y", "type": "quantitative", "axis": null}}},
        {"data": {"values": [{"x":-82,"y":1.407}]}, "mark": {"type": "point", "shape": "triangle-up", "angle": 90, "size": 28, "filled": true, "color": "#111", "opacity": 1},
         "encoding": {"x": {"field": "x", "type": "quantitative", "axis": null}, "y": {"field": "y", "type": "quantitative", "axis": null}}},
        {"data": {"values": [{"x":-263,"y":1.3063}]}, "mark": {"type": "point", "shape": "triangle-up", "angle": 237, "size": 28, "filled": true, "color": "#111", "opacity": 1},
         "encoding": {"x": {"field": "x", "type": "quantitative", "axis": null}, "y": {"field": "y", "type": "quantitative", "axis": null}}},
        {"data": {"values": [{"x":-109.8,"y":1.3245}]}, "mark": {"type": "point", "shape": "triangle-up", "angle": 120, "size": 34, "filled": true, "color": "#7b5aa6", "opacity": 1},
         "encoding": {"x": {"field": "x", "type": "quantitative", "axis": null}, "y": {"field": "y", "type": "quantitative", "axis": null}}},
        {"data": {"values": [{"x":-183.4,"y":1.407}]}, "mark": {"type": "point", "shape": "M-0.8,0.6A1,1 0 0,0 0.86,0.5", "size": 1296, "filled": false, "color": "#111", "strokeWidth": 1, "opacity": 1},
         "encoding": {"x": {"field": "x", "type": "quantitative", "axis": null}, "y": {"field": "y", "type": "quantitative", "axis": null}}},
        {"data": {"values": [{"x":-160.8,"y":1.5506,"t":"[001]"},{"x":-76.1,"y":1.4357,"t":"[010]"},{"x":-279.2,"y":1.3348,"t":"[100]"}]},
         "mark": {"type": "text", "align": "center", "baseline": "middle", "fontSize": 8, "color": "#222"},
         "encoding": {"x": {"field": "x", "type": "quantitative", "axis": null}, "y": {"field": "y", "type": "quantitative", "axis": null}, "text": {"field": "t"}}},
        {"data": {"values": [{"x":-179.4,"y":1.3176,"t":"φ"}]},
         "mark": {"type": "text", "align": "center", "baseline": "middle", "fontSize": 17, "font": "Liberation Serif", "fontStyle": "italic", "color": "#111"},
         "encoding": {"x": {"field": "x", "type": "quantitative", "axis": null}, "y": {"field": "y", "type": "quantitative", "axis": null}, "text": {"field": "t"}}},
        {"data": {"values": [{"x":-93.5,"y":1.3063,"t":"H"}]},
         "mark": {"type": "text", "align": "center", "baseline": "middle", "fontSize": 13, "fontStyle": "italic", "fontWeight": "bold", "color": "#7b5aa6"},
         "encoding": {"x": {"field": "x", "type": "quantitative", "axis": null}, "y": {"field": "y", "type": "quantitative", "axis": null}, "text": {"field": "t"}}}
      ],
      "resolve": {"scale": {"fill": "independent"}, "axis": {"x": "independent", "y": "independent"}}
    },
    {
      "width": 75, "height": 465,
      "view": {"stroke": null},
      "data": {"values": []},
      "mark": {"type": "point", "opacity": 0}
    },
    {
      "width": 181, "height": 465,
      "layer": [
        {"data": {"name": "bL"}, "transform": [{"filter": "datum.g=='f'"}],
         "mark": {"type": "circle", "size": 25, "opacity": 1},
         "encoding": {
           "x": {"field": "x", "type": "quantitative", "scale": {"domain": [-135, 135], "nice": false},
                 "axis": {"orient": "bottom", "values": [-135,-112.5,-90,-67.5,-45,-22.5,0,22.5,45,67.5,90,112.5,135], "labelExpr": "datum.value%45==0&&datum.value<135?''+datum.value:''", "tickSize": -4, "labelPadding": 8, "title": "θ (deg)", "titleX": 181, "titleY": 20}},
           "y": {"field": "y", "type": "quantitative", "scale": {"domain": [-1, 18], "nice": false},
                 "axis": {"orient": "left", "values": [-1,0,1,2,3,4,5,6,7,8,9,10,11,12,13,14,15,16,17,18], "labelExpr": "datum.value%2==0?''+datum.value:''", "tickSize": 5, "labelPadding": 3, "title": "ΔC/T (mJ/molK²)", "titlePadding": 4}},
           "fill": {"field": "s", "type": "nominal", "scale": {"domain": ["0.8","0.7","0.6","0.5","0.4","0.3","0.2","0.1"], "range": ["#5c0000","#cc0f0f","#ff1f1f","#ffa31a","#b5f21f","#33f5bd","#1f1fff","#800080"]}, "legend": null}}},
        {"data": {"name": "bL"}, "transform": [{"filter": "datum.g=='o'"}],
         "mark": {"type": "circle", "size": 25, "opacity": 1, "stroke": "#111", "strokeWidth": 0.7},
         "encoding": {
           "x": {"field": "x", "type": "quantitative", "scale": {"domain": [-135, 135], "nice": false},
                 "axis": {"orient": "top", "values": [-135,-112.5,-90,-67.5,-45,-22.5,0,22.5,45,67.5,90,112.5,135], "labelExpr": "datum.value==0?'[001]':''", "tickSize": -4, "labelPadding": 7, "title": null}},
           "y": {"field": "y", "type": "quantitative", "scale": {"domain": [-1, 18], "nice": false},
                 "axis": {"orient": "right", "values": [-1,0,1,2,3,4,5,6,7,8,9,10,11,12,13,14,15,16,17,18], "labels": false, "tickSize": -5, "title": null}},
           "fill": {"field": "s", "type": "nominal", "scale": {"domain": ["0.8","0.7","0.6","0.5","0.4","0.3","0.2","0.1"], "range": ["#550606","#a80c0c","#c61414","#d1900f","#94b814","#3cc99e","#14149e","#4f1040"]}, "legend": null}}},
        {"data": {"values": [{}]}, "mark": {"type": "rule", "strokeDash": [3, 2], "color": "#222", "strokeWidth": 0.8},
         "encoding": {"x": {"datum": 0, "type": "quantitative", "axis": null}}},
        {"data": {"name": "tBL"}, "mark": {"type": "text", "align": "left", "baseline": "middle", "fontSize": 16, "font": "Liberation Serif"},
         "encoding": {"x": {"field": "x", "type": "quantitative", "axis": null}, "y": {"field": "y", "type": "quantitative", "axis": null}, "text": {"field": "t"},
           "fill": {"field": "s", "type": "nominal", "scale": {"domain": ["0.8","0.7","0.6","0.5","0.4","0.3","0.2","0.1"], "range": ["#8b1c1c","#e85a5a","#ff2020","#ffa31a","#a8e83a","#a8ffff","#2020ff","#8b108b"]}, "legend": null}}},
        {"data": {"values": [{"x":-128.5,"y":17.53,"t":"sample A"},{"x":-113.2,"y":16.82,"t":"= 0.33 K"},{"x":-205,"y":18.12,"t":"(b)"}]},
         "mark": {"type": "text", "align": "left", "baseline": "middle", "fontSize": 14, "color": "#111"},
         "encoding": {"x": {"field": "x", "type": "quantitative", "axis": null}, "y": {"field": "y", "type": "quantitative", "axis": null}, "text": {"field": "t"}}},
        {"data": {"values": [{"x":-126,"y":16.82,"t":"T"}]},
         "mark": {"type": "text", "align": "left", "baseline": "middle", "fontSize": 14, "fontStyle": "italic", "color": "#111"},
         "encoding": {"x": {"field": "x", "type": "quantitative", "axis": null}, "y": {"field": "y", "type": "quantitative", "axis": null}, "text": {"field": "t"}}}
      ],
      "resolve": {"scale": {"fill": "independent"}, "axis": {"x": "independent", "y": "independent"}}
    },
    {
      "width": 181, "height": 465,
      "layer": [
        {"data": {"name": "bR"}, "transform": [{"filter": "datum.g=='f'"}],
         "mark": {"type": "circle", "size": 25, "opacity": 1},
         "encoding": {
           "x": {"field": "x", "type": "quantitative", "scale": {"domain": [-135, 135], "nice": false},
                 "axis": {"orient": "bottom", "values": [-135,-112.5,-90,-67.5,-45,-22.5,0,22.5,45,67.5,90,112.5,135], "labelExpr": "datum.value%45==0?''+datum.value:''", "tickSize": -4, "labelPadding": 8, "title": null}},
           "y": {"field": "y", "type": "quantitative", "scale": {"domain": [-1, 18], "nice": false},
                 "axis": {"orient": "left", "values": [-1,0,1,2,3,4,5,6,7,8,9,10,11,12,13,14,15,16,17,18], "labels": false, "tickSize": -5, "title": null}},
           "fill": {"field": "s", "type": "nominal", "scale": {"domain": ["0.8","0.7","0.6","0.5","0.4","0.3","0.2","0.1"], "range": ["#5c0000","#cc0f0f","#ff1f1f","#ffa31a","#b5f21f","#33f5bd","#1f1fff","#800080"]}, "legend": null}}},
        {"data": {"name": "bR"}, "transform": [{"filter": "datum.g=='o'"}],
         "mark": {"type": "circle", "size": 25, "opacity": 1, "stroke": "#111", "strokeWidth": 0.7},
         "encoding": {
           "x": {"field": "x", "type": "quantitative", "scale": {"domain": [-135, 135], "nice": false},
                 "axis": {"orient": "top", "values": [-135,-112.5,-90,-67.5,-45,-22.5,0,22.5,45,67.5,90,112.5,135], "labelExpr": "datum.value==0?'[001]':''", "tickSize": -4, "labelPadding": 7, "title": null}},
           "y": {"field": "y", "type": "quantitative", "scale": {"domain": [-1, 18], "nice": false},
                 "axis": {"orient": "right", "values": [-1,0,1,2,3,4,5,6,7,8,9,10,11,12,13,14,15,16,17,18], "labels": false, "tickSize": -5, "title": null}},
           "fill": {"field": "s", "type": "nominal", "scale": {"domain": ["0.8","0.7","0.6","0.5","0.4","0.3","0.2","0.1"], "range": ["#550606","#a80c0c","#c61414","#d1900f","#94b814","#3cc99e","#14149e","#4f1040"]}, "legend": null}}},
        {"data": {"values": [{}]}, "mark": {"type": "rule", "strokeDash": [3, 2], "color": "#222", "strokeWidth": 0.8},
         "encoding": {"x": {"datum": 0, "type": "quantitative", "axis": null}}},
        {"data": {"name": "tBR"}, "mark": {"type": "text", "align": "right", "baseline": "middle", "fontSize": 16, "font": "Liberation Serif"},
         "encoding": {"x": {"field": "x", "type": "quantitative", "axis": null}, "y": {"field": "y", "type": "quantitative", "axis": null}, "text": {"field": "t"},
           "fill": {"field": "s", "type": "nominal", "scale": {"domain": ["0.8","0.7","0.6","0.5","0.4","0.3","0.2","0.1"], "range": ["#8b1c1c","#e85a5a","#ff2020","#ffa31a","#a8e83a","#a8ffff","#2020ff","#8b108b"]}, "legend": null}}},
        {"data": {"values": [{"x":124.6,"y":17.53,"t":"sample B"},{"x":126,"y":16.82,"t":"= 0.33 K"}]},
         "mark": {"type": "text", "align": "right", "baseline": "middle", "fontSize": 14, "color": "#111"},
         "encoding": {"x": {"field": "x", "type": "quantitative", "axis": null}, "y": {"field": "y", "type": "quantitative", "axis": null}, "text": {"field": "t"}}},
        {"data": {"values": [{"x":47.5,"y":16.82,"t":"T"}]},
         "mark": {"type": "text", "align": "right", "baseline": "middle", "fontSize": 14, "fontStyle": "italic", "color": "#111"},
         "encoding": {"x": {"field": "x", "type": "quantitative", "axis": null}, "y": {"field": "y", "type": "quantitative", "axis": null}, "text": {"field": "t"}}},
        {"data": {"values": [{"x":-244,"x2":-26,"y":18.1,"y2":15.47}]}, "mark": {"type": "rect", "color": "white", "opacity": 1},
         "encoding": {"x": {"field": "x", "type": "quantitative", "axis": null}, "x2": {"field": "x2"}, "y": {"field": "y", "type": "quantitative", "axis": null}, "y2": {"field": "y2"}}},
        {"data": {"values": [{"x":-147.7,"y":16.762}]},
         "mark": {"type": "point", "shape": "M-1,0C-1,-0.267 -0.552,-0.484 0,-0.484C0.552,-0.484 1,-0.267 1,0C1,0.267 0.552,0.484 0,0.484C-0.552,0.484 -1,0.267 -1,0Z", "size": 15450, "filled": true, "color": "#aac5ea", "opacity": 1, "strokeWidth": 0},
         "encoding": {"x": {"field": "x", "type": "quantitative", "axis": null}, "y": {"field": "y", "type": "quantitative", "axis": null}}},
        {"data": {"values": [{"x":-148.4,"y":16.692,"x2":-148.4,"y2":18.42},{"x":-148.4,"y":16.692,"x2":-56.4,"y2":16.692},{"x":-148.4,"y":16.692,"x2":-203.2,"y2":15.74}]},
         "mark": {"type": "rule", "color": "#111", "strokeWidth": 1},
         "encoding": {"x": {"field": "x", "type": "quantitative", "axis": null}, "x2": {"field": "x2"}, "y": {"field": "y", "type": "quantitative", "axis": null}, "y2": {"field": "y2"}}},
        {"data": {"values": [{"x":-148.4,"y":16.692,"x2":-87.7,"y2":18.19}]},
         "mark": {"type": "rule", "color": "#7b5aa6", "strokeWidth": 1.5},
         "encoding": {"x": {"field": "x", "type": "quantitative", "axis": null}, "x2": {"field": "x2"}, "y": {"field": "y", "type": "quantitative", "axis": null}, "y2": {"field": "y2"}}},
        {"data": {"values": [{"x":-148.4,"y":18.42}]}, "mark": {"type": "point", "shape": "triangle-up", "angle": 0, "size": 28, "filled": true, "color": "#111", "opacity": 1},
         "encoding": {"x": {"field": "x", "type": "quantitative", "axis": null}, "y": {"field": "y", "type": "quantitative", "axis": null}}},
        {"data": {"values": [{"x":-56.4,"y":16.692}]}, "mark": {"type": "point", "shape": "triangle-up", "angle": 90, "size": 28, "filled": true, "color": "#111", "opacity": 1},
         "encoding": {"x": {"field": "x", "type": "quantitative", "axis": null}, "y": {"field": "y", "type": "quantitative", "axis": null}}},
        {"data": {"values": [{"x":-203.2,"y":15.74}]}, "mark": {"type": "point", "shape": "triangle-up", "angle": 238, "size": 28, "filled": true, "color": "#111", "opacity": 1},
         "encoding": {"x": {"field": "x", "type": "quantitative", "axis": null}, "y": {"field": "y", "type": "quantitative", "axis": null}}},
        {"data": {"values": [{"x":-87.7,"y":18.19}]}, "mark": {"type": "point", "shape": "triangle-up", "angle": 48, "size": 34, "filled": true, "color": "#7b5aa6", "opacity": 1},
         "encoding": {"x": {"field": "x", "type": "quantitative", "axis": null}, "y": {"field": "y", "type": "quantitative", "axis": null}}},
        {"data": {"values": [{"x":-148.4,"y":16.692}]}, "mark": {"type": "point", "shape": "M0,-1A1,1 0 0,1 0.79,-0.61", "size": 1600, "filled": false, "color": "#111", "strokeWidth": 1, "opacity": 1},
         "encoding": {"x": {"field": "x", "type": "quantitative", "axis": null}, "y": {"field": "y", "type": "quantitative", "axis": null}}},
        {"data": {"values": [{"x":-126,"y":18.4,"t":"[001]"},{"x":-51.5,"y":16.99,"t":"[010]"},{"x":-213,"y":16.15,"t":"[100]"}]},
         "mark": {"type": "text", "align": "center", "baseline": "middle", "fontSize": 8, "color": "#222"},
         "encoding": {"x": {"field": "x", "type": "quantitative", "axis": null}, "y": {"field": "y", "type": "quantitative", "axis": null}, "text": {"field": "t"}}},
        {"data": {"values": [{"x":-127.5,"y":17.64,"t":"θ"}]},
         "mark": {"type": "text", "align": "center", "baseline": "middle", "fontSize": 17, "font": "Liberation Serif", "fontStyle": "italic", "color": "#111"},
         "encoding": {"x": {"field": "x", "type": "quantitative", "axis": null}, "y": {"field": "y", "type": "quantitative", "axis": null}, "text": {"field": "t"}}},
        {"data": {"values": [{"x":-74.9,"y":17.92,"t":"H"}]},
         "mark": {"type": "text", "align": "center", "baseline": "middle", "fontSize": 13, "fontStyle": "italic", "fontWeight": "bold", "color": "#7b5aa6"},
         "encoding": {"x": {"field": "x", "type": "quantitative", "axis": null}, "y": {"field": "y", "type": "quantitative", "axis": null}, "text": {"field": "t"}}}
      ],
      "resolve": {"scale": {"fill": "independent"}, "axis": {"x": "independent", "y": "independent"}}
    }
  ],
  "spacing": 0,
  "bounds": "flush"
}
